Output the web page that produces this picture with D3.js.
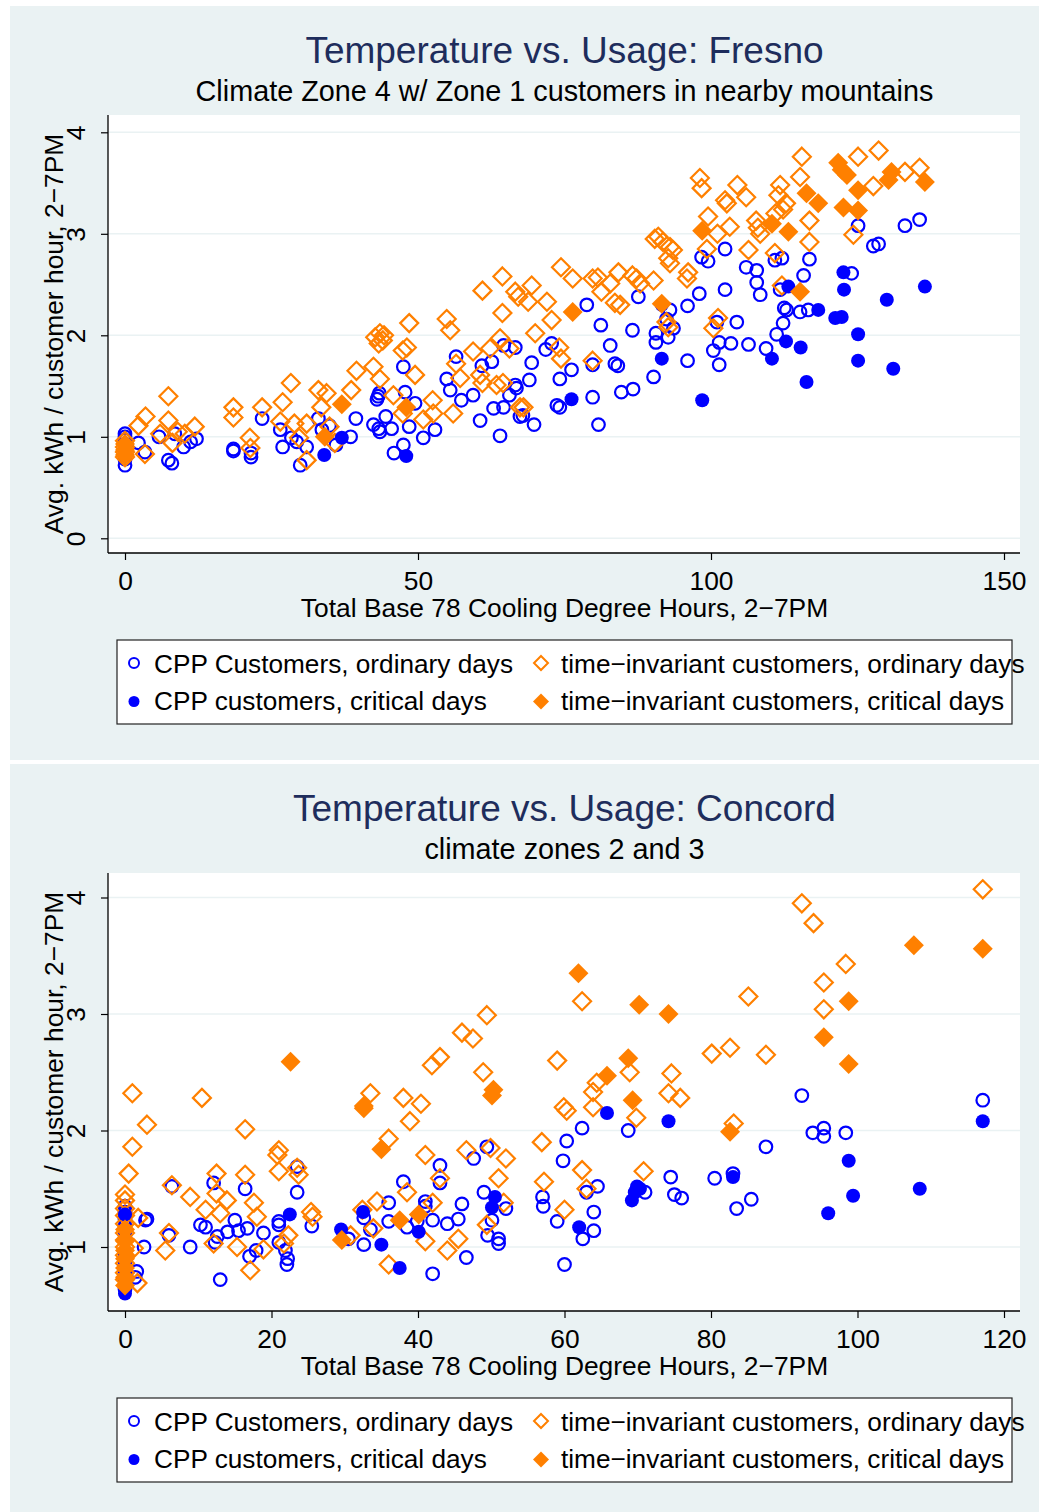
<!DOCTYPE html>
<html>
<head>
<meta charset="utf-8">
<script src="https://cdn.jsdelivr.net/npm/d3@7"></script>
<style>
  body { margin: 0; background: #fff; }
  svg text { font-family: "Liberation Sans", Arial, Helvetica, sans-serif; }
</style>
</head>
<body>
<div id="chart"></div>
<script>
// ---- Fresno (climate zone 4) ----
const fresnoCppOrdinary = [
  [0,1.03],[0,1.0],[0,0.97],[0,0.92],[0,0.88],[0,0.82],[0,0.78],[0,0.72],
  [2.3,0.94],[3.4,0.85],[5.8,1.0],[7.4,0.77],[8.0,0.74],[8.5,1.03],[10,0.90],[11.2,0.95],[12.2,0.98],
  [18.5,0.88],[18.5,0.86],[21.5,0.80],[21.5,0.84],[23.4,1.18],[26.5,1.07],[26.9,0.90],[28.4,0.99],[29.3,0.95],
  [29.9,0.72],[31.0,0.90],[33.0,1.18],[33.6,1.07],[34.9,1.11],[36,0.92],[38.5,1.0],[39.4,1.18],
  [42.4,1.12],[43.3,1.08],[43.5,1.05],[44.5,1.2],[45.5,1.08],[43,1.37],[43.4,1.43],[43.2,1.40],[47.8,1.44],
  [49.5,1.33],[48.5,1.10],[47.5,0.92],[45.9,0.84],[47.5,1.69],[50.9,0.99],[52.9,1.07],[54.9,1.57],[55.5,1.46],
  [56.5,1.79],[57.4,1.36],[59.4,1.41],[60.9,1.70],[62.6,1.74],[60.6,1.16],[62.9,1.28],[64.6,1.29],[65.6,1.41],
  [64,1.01],[64.6,1.90],[66.6,1.51],[67.4,1.2],[66.6,1.88],[67.9,1.21],[69.8,1.12],[66.8,1.48],[69,1.56],
  [69.4,1.73],[71.8,1.86],[72.8,1.92],[73.7,1.31],[74.2,1.29],[74.2,1.57],[76.2,1.66],[78.8,2.30],[79.8,1.71],
  [79.8,1.39],[80.8,1.12],[81.2,2.10],[82.8,1.90],[83.6,1.72],[84.1,1.70],[84.7,1.44],[86.7,1.47],[86.6,2.05],
  [87.6,2.38],[90.2,1.59],[90.6,2.02],[90.6,1.93],[92.4,2.16],[93,2.25],[93.6,2.07],[92.7,1.98],[96,2.29],
  [96,1.75],[98,2.41],[98.4,2.77],[99.5,2.73],[102.4,2.85],[102.4,2.45],[101,2.13],[101.4,1.93],[100.4,1.85],
  [101.4,1.71],[103.4,1.92],[104.4,2.13],[106.4,1.91],[106,2.67],[107.8,2.64],[107.8,2.52],[108.4,2.40],
  [109.4,1.87],[110.9,2.74],[112.1,2.76],[111.8,2.45],[112.5,2.27],[112.9,2.25],[112.3,2.12],[111.2,2.01],
  [115.2,2.23],[116.6,2.25],[115.8,2.59],[116.8,2.75],[124,2.61],[125.1,3.08],[127.7,2.88],[128.6,2.90],
  [133.1,3.08],[135.6,3.14]
];
const fresnoCppCritical = [
  [34,0.82],[37,0.99],[48,0.81],[76.2,1.37],[91.6,1.77],[91.6,2.30],[98.5,1.36],[110.4,1.77],[112.8,1.94],
  [113.2,2.48],[115.3,1.88],[116.3,1.54],[118.3,2.25],[121.2,2.17],[122.3,2.18],[122.6,2.62],[122.7,2.45],
  [125.1,2.01],[125.1,1.75],[130,2.35],[131.1,1.67],[136.5,2.48]
];
const fresnoTiOrdinary = [
  [0,0.96],[0,0.90],[0,0.85],[0,0.80],
  [2.3,1.11],[3.5,1.20],[3.4,0.83],[6.0,1.03],[7.4,1.40],[7.4,1.16],[8.1,0.94],[9.0,1.05],[10.2,1.03],
  [11.9,1.10],[18.5,1.29],[18.5,1.19],[21.3,0.99],[21.4,0.89],[23.4,1.29],[26.5,1.15],[26.9,1.34],[28.3,1.53],
  [28.9,1.13],[29.7,0.99],[31.0,1.13],[31.0,0.77],[33.0,1.46],[33.5,1.29],[34.4,1.43],[34.9,1.10],[35.8,0.94],
  [38.6,1.46],[39.5,1.65],[42.4,1.69],[43.5,1.57],[45.8,1.41],[47.4,1.23],[49.5,1.61],[47.4,1.85],[48.1,1.88],
  [48.5,2.12],[42.7,1.98],[43.5,2.02],[44,1.95],[43.3,1.92],[44.2,2.0],[50.9,1.17],[52.5,1.36],[52.6,1.23],
  [56.0,1.23],[56.5,1.72],[57.2,1.58],[54.9,2.16],[55.5,2.05],[59.4,1.84],[60.6,1.61],[61,1.53],[63.4,1.51],
  [64,1.97],[62.3,1.87],[65.6,1.87],[67.4,1.29],[61,2.44],[64.4,2.58],[64.4,2.22],[66.6,2.43],[67.1,2.38],
  [64.5,1.53],[68,1.29],[69.4,2.49],[68.8,2.33],[72,2.33],[72.8,2.15],[70,2.02],[74.4,2.67],[76.4,2.56],
  [74.1,1.88],[74.4,1.77],[79.8,2.56],[80.7,2.57],[81.3,2.43],[84.2,2.62],[82.8,2.51],[83.6,2.32],[84.5,2.30],
  [86.6,2.59],[87.3,2.56],[87.9,2.51],[90.2,2.54],[79.8,1.75],[90.4,2.95],[91.0,2.97],[91.8,2.92],[93,2.87],
  [93.5,2.84],[92.7,2.76],[93,2.71],[92.4,2.13],[92.7,2.08],[96.1,2.62],[95.9,2.56],[98.1,3.55],[98.4,3.45],
  [99.5,3.17],[101.1,3.0],[103.2,3.07],[104.5,3.48],[106,3.36],[102.4,3.33],[102.7,3.30],[99.3,2.85],
  [101.2,2.17],[100.4,2.07],[106.4,2.84],[107.7,3.13],[108.4,3.0],[108.0,3.06],[110.9,2.81],[111.8,3.48],
  [111.5,3.38],[112.8,3.30],[112.3,3.24],[111.0,3.20],[115.5,3.76],[115.2,3.56],[116.8,3.13],[116.8,2.92],
  [112.1,2.49],[125.1,3.76],[128.6,3.82],[127.7,3.47],[124.3,2.99],[133.1,3.61],[135.6,3.65]
];
const fresnoTiCritical = [
  [0,0.93],[0,0.87],[0,0.82],[34.1,1.0],[37,1.32],[48,1.29],[76.4,2.23],[91.6,2.31],[98.5,3.03],[110.4,3.10],
  [113.2,3.02],[116.3,3.40],[118.3,3.30],[115.2,2.43],[121.7,3.70],[122.3,3.63],[123.2,3.58],[122.6,3.26],
  [125.1,3.43],[125.1,3.23],[130.8,3.61],[130.3,3.53],[136.5,3.51]
];

// ---- Concord (climate zones 2 and 3) ----
const concordCppOrdinary = [
  [0,1.35],[0,1.30],[0,1.24],[0,1.18],[0,1.10],[0,0.95],[0,0.88],[0,0.80],[0,0.72],[0,0.64],
  [1.4,0.74],[1.6,0.79],[2.6,1.0],[3.0,1.24],[2.8,1.23],[6.4,1.52],[6,1.10],[8.9,1.0],[10.3,1.19],[11,1.17],
  [12.1,1.55],[13,0.72],[12.6,1.09],[12.3,1.04],[14,1.13],[15,1.23],[15.5,1.14],[16.7,1.16],[16.4,1.50],
  [17,0.92],[17.9,0.97],[18.9,1.12],[21,1.22],[21,1.19],[21,1.04],[21.9,0.97],[22.2,0.90],[22.1,0.85],
  [23.5,1.69],[23.5,1.47],[25.5,1.18],[30.5,1.07],[32.6,1.02],[32.6,1.25],[33.5,1.15],[36,1.38],[36,1.22],
  [38,1.56],[38.5,1.17],[39.9,1.22],[41,1.39],[41,1.35],[42,1.23],[42,0.77],[43,1.70],[43,1.55],[44,1.20],
  [45.5,1.24],[46,1.37],[46.6,0.91],[47.6,1.76],[49,1.47],[49.4,1.86],[49.5,1.10],[51,1.07],[51,1.03],
  [50.1,1.23],[52,1.33],[57,1.43],[57.1,1.35],[59,1.22],[59.8,1.74],[60.3,1.91],[60,0.85],[62.4,2.02],
  [62.5,1.07],[63,1.47],[64.5,1.52],[64,1.30],[64,1.14],[68.7,2.0],[71,1.47],[74.5,1.60],[75,1.45],[76,1.42],
  [80.5,1.59],[83,1.63],[83.5,1.33],[85.5,1.41],[87.5,1.86],[92.4,2.30],[93.9,1.98],[95.4,2.02],[95.4,1.95],
  [98.4,1.98],[117.1,2.26]
];
const concordCppCritical = [
  [0,0.60],[0,1.28],[22.5,1.28],[29.5,1.15],[32.5,1.30],[35,1.02],[37.5,0.82],[40.1,1.13],[50.5,1.43],
  [50.1,1.34],[62,1.17],[65.8,2.15],[69.9,1.52],[70.3,1.50],[69.6,1.47],[69.2,1.40],[74.2,2.08],[83,1.60],
  [96,1.29],[98.8,1.74],[99.4,1.44],[108.5,1.50],[117.1,2.08]
];
const concordTiOrdinary = [
  [0,1.45],[0,1.40],[0,1.33],[0,1.27],[0,1.20],[0,1.12],[0,1.06],[0,1.0],[0,0.93],[0,0.86],[0,0.78],[0,0.72],
  [0.5,1.63],[1.0,1.86],[1.0,2.32],[3.0,2.05],[1.8,1.25],[1.2,0.99],[1.7,0.69],[5.5,0.97],[6,1.12],[6.4,1.53],
  [8.9,1.43],[10.5,2.28],[11,1.32],[12.1,1.03],[12.5,1.63],[12.5,1.46],[13,1.29],[13.9,1.40],[15.3,1.0],
  [16.4,2.01],[16.4,1.62],[17.1,0.80],[17.6,1.38],[18,1.26],[18.9,0.98],[21,1.83],[20.8,1.79],[21,1.65],
  [21.7,1.03],[22.3,1.10],[23.5,1.68],[23.7,1.62],[25.4,1.30],[25.6,1.26],[30.8,1.10],[32.4,1.32],[33.5,2.32],
  [33.9,1.16],[34.4,1.39],[36,1.93],[36,0.85],[38,2.28],[38.5,1.47],[38.9,2.08],[40.4,2.23],[41,1.79],[41,1.05],
  [41.9,2.56],[42,1.38],[43,2.63],[43,1.59],[44,0.97],[45.5,1.07],[46,2.84],[46.6,1.83],[47.5,2.79],[48.9,2.50],
  [49.4,2.99],[49.4,1.19],[49.9,1.85],[51,1.59],[51.7,1.38],[52,1.76],[56.9,1.90],[57.2,1.56],[59,2.60],
  [59.9,2.20],[60.3,2.17],[60,1.32],[62.4,3.11],[62.4,1.66],[63,1.50],[63.9,2.33],[63.9,2.20],[64.4,2.41],
  [68.9,2.50],[69.8,2.11],[70.8,1.65],[74.2,2.32],[74.6,2.49],[75.8,2.28],[80.1,2.66],[82.6,2.71],[83.1,2.06],
  [85.1,3.15],[87.5,2.65],[92.4,3.95],[94,3.78],[95.4,3.27],[95.4,3.04],[98.4,3.43],[117.1,4.07]
];
const concordTiCritical = [
  [0,1.15],[0,1.05],[0,0.97],[0,0.90],[0,0.82],[0,0.74],[0,0.67],
  [22.6,2.59],[29.6,1.06],[32.6,2.19],[32.6,2.21],[35,1.84],[37.5,1.23],[40.1,1.28],[50.3,2.35],[50.1,2.30],
  [61.9,3.35],[65.8,2.47],[68.7,2.62],[69.3,2.26],[70.2,3.08],[74.2,3.0],[82.6,1.99],[95.4,2.80],[98.8,3.11],
  [98.8,2.57],[107.7,3.59],[117.1,3.56]
];

const fresnoXTicks = [0, 50, 100, 150];
const fresnoYTicks = [0, 1, 2, 3, 4];
const concordXTicks = [0, 20, 40, 60, 80, 100, 120];
const concordYTicks = [1, 2, 3, 4];

const legendLabels = [
  "CPP Customers, ordinary days",
  "time\u2212invariant customers, ordinary days",
  "CPP customers, critical days",
  "time\u2212invariant customers, critical days"
];

const W = 1039, H = 1512;
const BG = "#eaf2f3", BLUE = "#0000ff", ORANGE = "#ff8000";
const plotL = 108, plotR = 1020, plotT = 109, plotB = 547;
const cx = 564.5;

const svg = d3.select("#chart").append("svg")
  .attr("width", W).attr("height", H);
svg.append("rect").attr("width", W).attr("height", H).attr("fill", "#fff");

function diamond(s) {
  return `M0,${-s}L${s},0L0,${s}L${-s},0Z`;
}

// marker styles in legend order: CPP ord, TI ord, CPP crit, TI crit
const markerStyles = [
  {shape: "circle", fill: "none", stroke: BLUE, size: 6.3, lsize: 5},
  {shape: "diamond", fill: "none", stroke: ORANGE, size: 9, lsize: 7},
  {shape: "circle", fill: BLUE, stroke: "none", size: 7, lsize: 5.5},
  {shape: "diamond", fill: ORANGE, stroke: "none", size: 10, lsize: 8}
];

function drawMarks(g, data, st, x, y) {
  if (st.shape === "circle") {
    g.selectAll(null).data(data).enter().append("circle")
      .attr("cx", d => x(d[0])).attr("cy", d => y(d[1]))
      .attr("r", st.size)
      .attr("fill", st.fill).attr("stroke", st.stroke).attr("stroke-width", 2.2);
  } else {
    g.selectAll(null).data(data).enter().append("path")
      .attr("d", diamond(st.size))
      .attr("transform", d => `translate(${x(d[0])},${y(d[1])})`)
      .attr("fill", st.fill).attr("stroke", st.stroke).attr("stroke-width", 2.2);
  }
}

function drawPanel(top, cfg) {
  const g = svg.append("g").attr("transform", `translate(0,${top})`);
  g.append("rect").attr("x", 10).attr("y", 0).attr("width", W - 10).attr("height", cfg.height).attr("fill", BG);

  g.append("text").attr("x", cx).attr("y", 57).attr("text-anchor", "middle")
    .attr("font-size", 37).attr("fill", "#1e2d5c").text(cfg.title);
  g.append("text").attr("x", cx).attr("y", 95).attr("text-anchor", "middle")
    .attr("font-size", 28.8).attr("fill", "#000").text(cfg.subtitle);

  g.append("rect").attr("x", plotL).attr("y", plotT)
    .attr("width", plotR - plotL).attr("height", plotB - plotT).attr("fill", "#fff");

  const x = d3.scaleLinear().domain(cfg.xDomain).range([125, 1004]);
  const y = d3.scaleLinear().domain(cfg.yDomain).range(cfg.yRange);

  // gridlines
  g.append("g").selectAll("line").data(cfg.yTicks).enter().append("line")
    .attr("x1", plotL).attr("x2", plotR)
    .attr("y1", d => y(d)).attr("y2", d => y(d))
    .attr("stroke", BG).attr("stroke-width", 1.6);

  // markers, Stata draw order
  const marks = g.append("g");
  drawMarks(marks, cfg.series[0], markerStyles[0], x, y);
  drawMarks(marks, cfg.series[1], markerStyles[1], x, y);
  drawMarks(marks, cfg.series[2], markerStyles[2], x, y);
  drawMarks(marks, cfg.series[3], markerStyles[3], x, y);

  // y axis
  const ya = g.append("g").attr("transform", `translate(${plotL},0)`)
    .call(d3.axisLeft(y).tickValues(cfg.yTicks).tickSize(7).tickSizeOuter(0).tickFormat(d3.format("d")));
  ya.select(".domain").remove();
  ya.selectAll(".tick line").attr("stroke", "#000").attr("stroke-width", 1.2);
  ya.selectAll(".tick text")
    .attr("x", null).attr("dy", null).attr("text-anchor", "middle")
    .attr("transform", "translate(-23,0) rotate(-90)")
    .attr("font-size", 26.4).attr("fill", "#000")
    .style("font-family", '"Liberation Sans", Arial, sans-serif');

  // x axis
  const xa = g.append("g").attr("transform", `translate(0,${plotB})`)
    .call(d3.axisBottom(x).tickValues(cfg.xTicks).tickSize(7).tickSizeOuter(0).tickFormat(d3.format("d")));
  xa.select(".domain").remove();
  xa.selectAll(".tick line").attr("stroke", "#000").attr("stroke-width", 1.2);
  xa.selectAll(".tick text").attr("y", 37).attr("dy", null)
    .attr("font-size", 26.4).attr("fill", "#000")
    .style("font-family", '"Liberation Sans", Arial, sans-serif');

  g.append("line").attr("x1", plotL).attr("x2", plotL).attr("y1", plotT).attr("y2", plotB)
    .attr("stroke", "#000").attr("stroke-width", 1.3);
  g.append("line").attr("x1", plotL).attr("x2", plotR).attr("y1", plotB).attr("y2", plotB)
    .attr("stroke", "#000").attr("stroke-width", 1.3);

  // axis titles
  g.append("text").attr("x", cx).attr("y", 611).attr("text-anchor", "middle")
    .attr("font-size", 26.4).text("Total Base 78 Cooling Degree Hours, 2\u22127PM");
  g.append("text").attr("transform", `translate(63,${(plotT + plotB) / 2}) rotate(-90)`)
    .attr("text-anchor", "middle").attr("font-size", 26.4)
    .text("Avg. kWh / customer hour, 2\u22127PM");

  // legend
  const lg = g.append("g");
  lg.append("rect").attr("x", 117).attr("y", 634).attr("width", 895).attr("height", 84)
    .attr("fill", "#fff").attr("stroke", "#222").attr("stroke-width", 1.2);
  const symX = [134, 541], txtX = [154, 561], symY = [657, 695.5], txtY = [667, 704];
  legendLabels.forEach((lab, i) => {
    const col = i % 2, row = Math.floor(i / 2);
    const st = markerStyles[i];
    if (st.shape === "circle") {
      lg.append("circle").attr("cx", symX[col]).attr("cy", symY[row]).attr("r", st.lsize)
        .attr("fill", st.fill).attr("stroke", st.stroke).attr("stroke-width", 2);
    } else {
      lg.append("path").attr("d", diamond(st.lsize))
        .attr("transform", `translate(${symX[col]},${symY[row]})`)
        .attr("fill", st.fill).attr("stroke", st.stroke).attr("stroke-width", 2);
    }
    lg.append("text").attr("x", txtX[col]).attr("y", txtY[row]).attr("font-size", 26.2).text(lab);
  });
}

drawPanel(6, {
  height: 754,
  title: "Temperature vs. Usage: Fresno",
  subtitle: "Climate Zone 4 w/ Zone 1 customers in nearby mountains",
  xDomain: [0, 150], yDomain: [0, 4], yRange: [532.3, 126.3],
  xTicks: fresnoXTicks, yTicks: fresnoYTicks,
  series: [fresnoCppOrdinary, fresnoTiOrdinary, fresnoCppCritical, fresnoTiCritical]
});

drawPanel(764, {
  height: 748,
  title: "Temperature vs. Usage: Concord",
  subtitle: "climate zones 2 and 3",
  xDomain: [0, 120], yDomain: [1, 4], yRange: [483, 133.5],
  xTicks: concordXTicks, yTicks: concordYTicks,
  series: [concordCppOrdinary, concordTiOrdinary, concordCppCritical, concordTiCritical]
});
</script>
</body>
</html>
